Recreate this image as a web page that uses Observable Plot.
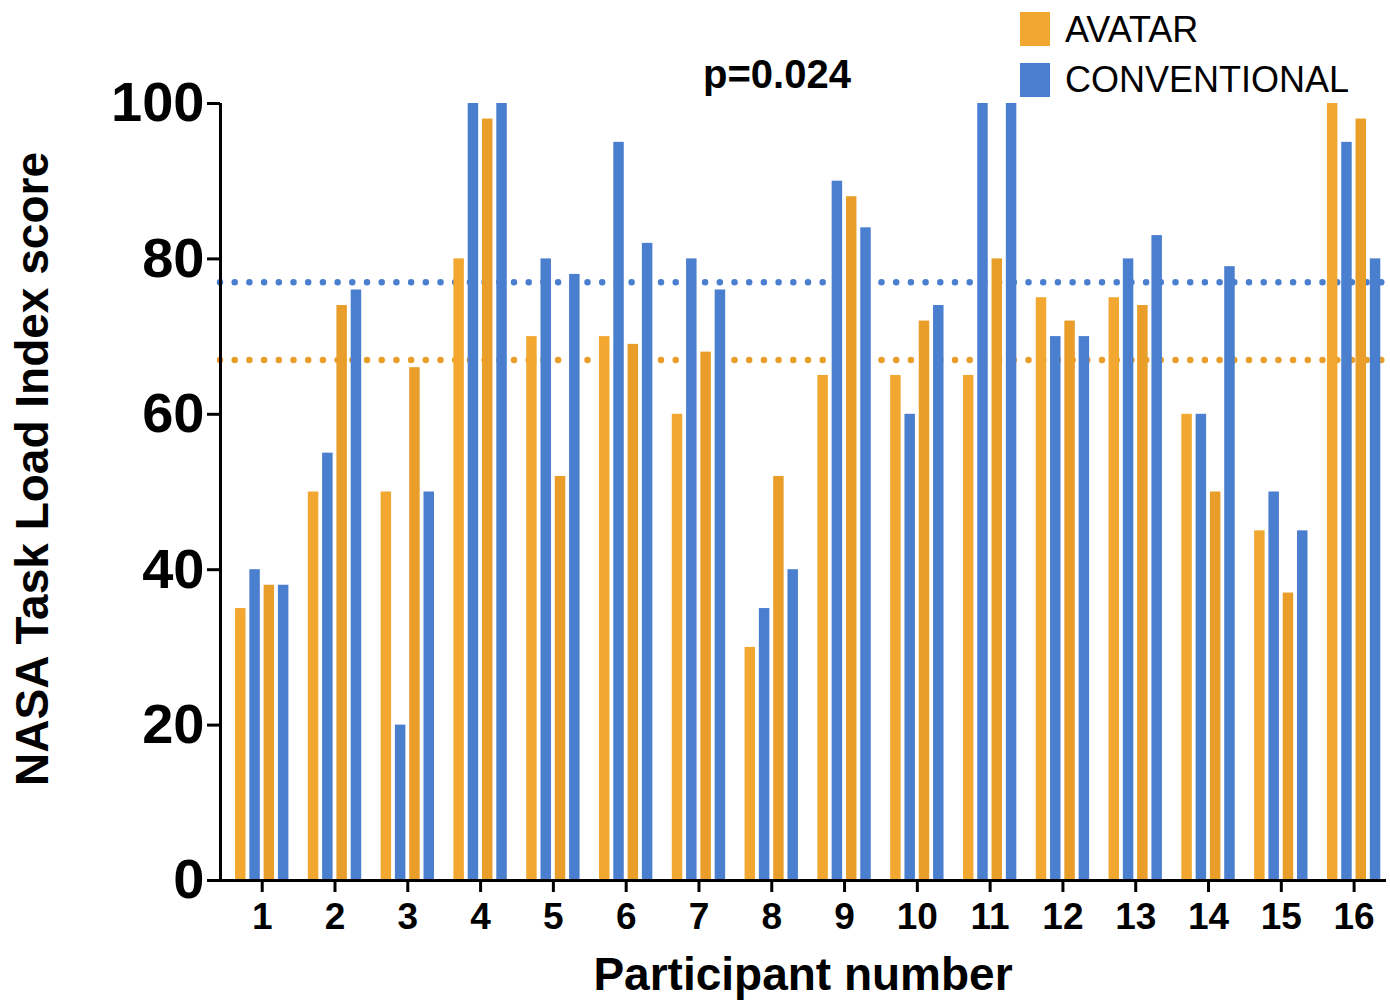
<!DOCTYPE html>
<html>
<head>
<meta charset="utf-8">
<script src="https://cdn.jsdelivr.net/npm/d3@7"></script>
<script src="https://cdn.jsdelivr.net/npm/@observablehq/plot@0.6"></script>
<style>
  html, body { margin: 0; padding: 0; background: #fff; }
  #wrap { position: relative; width: 1390px; height: 1005px; font-family: "Liberation Sans", Arial, sans-serif; color: #000; }
  #wrap svg { position: absolute; left: 0; top: 0; }
  .ov { position: absolute; line-height: 1; white-space: nowrap; }
  .sw { position: absolute; width: 30px; height: 34px; }
</style>
</head>
<body>
<div id="wrap"></div>
<script>
// ---- data ----
const participants = [1,2,3,4,5,6,7,8,9,10,11,12,13,14,15,16];
const avatarA       = [35,50,50,80,70,70,60,30,65,65,65,75,75,60,45,100];
const conventionalA = [40,55,20,100,80,95,80,35,90,60,100,70,80,60,50,95];
const avatarB       = [38,74,66,98,52,69,68,52,88,72,80,72,74,50,37,98];
const conventionalB = [38,76,50,100,78,82,76,40,84,74,100,70,83,79,45,80];
const yTicks = [0,20,40,60,80,100];
const meanAvatar = 67;
const meanConventional = 77;
const seriesNames = ["AVATAR", "CONVENTIONAL"];
const pText = "p=0.024";
const xTitle = "Participant number";
const yTitle = "NASA Task Load Index score";

// ---- styling ----
const ORANGE_A = "#F2A830";
const ORANGE_B = "#E89E29";
const BLUE = "#4A7ECF";
const slotColors = [ORANGE_A, BLUE, ORANGE_B, BLUE];
const SLOT = 0.1964;   // bar step within a participant (x units)
const BAR = 0.144;     // bar width (x units)
const X_DOMAIN = [0.427, 16.5];

const slots = [avatarA, conventionalA, avatarB, conventionalB];
const rows = [];
participants.forEach((p, i) => {
  slots.forEach((arr, j) => {
    rows.push({participant: p, slot: j, series: seriesNames[j % 2], value: arr[i]});
  });
});

const chart = Plot.plot({
  width: 1390,
  height: 1005,
  marginLeft: 220,
  marginRight: 0,
  marginTop: 103,
  marginBottom: 125,
  style: {fontFamily: "Liberation Sans, Arial, sans-serif", color: "#000", background: "transparent"},
  x: {type: "linear", domain: X_DOMAIN},
  y: {domain: [0, 100]},
  marks: [
    Plot.ruleY([meanAvatar], {stroke: ORANGE_B, strokeWidth: 6.5, strokeDasharray: "0 14.7", strokeLinecap: "round", insetLeft: 0, insetRight: 8}),
    Plot.ruleY([meanConventional], {stroke: BLUE, strokeWidth: 6.5, strokeDasharray: "0 14.7", strokeLinecap: "round", insetLeft: 0, insetRight: 8}),
    Plot.rectY(rows, {
      x1: d => d.participant + (d.slot - 1.5) * SLOT - BAR / 2,
      x2: d => d.participant + (d.slot - 1.5) * SLOT + BAR / 2,
      y: "value",
      fill: d => slotColors[d.slot]
    }),
    Plot.ruleY([0], {strokeWidth: 3, insetRight: 4}),
    Plot.ruleX([X_DOMAIN[0]], {y1: 0, y2: 100, strokeWidth: 3}),
    Plot.axisX(participants, {tickSize: 12, tickPadding: 10, fontSize: 37, fontWeight: "bold", strokeWidth: 3, tickFormat: d => String(d), label: null}),
    Plot.axisY(yTicks, {tickSize: 13, tickPadding: 3, fontSize: 56, fontWeight: "bold", strokeWidth: 3, tickFormat: d => String(d), label: null})
  ]
});

const wrap = document.getElementById("wrap");
wrap.appendChild(chart);

function addText(txt, css) {
  const d = document.createElement("div");
  d.className = "ov";
  d.textContent = txt;
  Object.assign(d.style, css);
  wrap.appendChild(d);
  return d;
}
function addSwatch(color, css) {
  const d = document.createElement("div");
  d.className = "sw";
  d.style.background = color;
  Object.assign(d.style, css);
  wrap.appendChild(d);
}

addText(pText, {left: "703px", top: "54px", fontSize: "40px", fontWeight: "bold"});
addSwatch(ORANGE_A, {left: "1020px", top: "12px"});
addSwatch(BLUE, {left: "1020px", top: "63px"});
addText(seriesNames[0], {left: "1065px", top: "12px", fontSize: "36px"});
addText(seriesNames[1], {left: "1065px", top: "62px", fontSize: "36px"});
addText(xTitle, {left: "803px", top: "951px", fontSize: "46px", fontWeight: "bold", transform: "translateX(-50%)"});
addText(yTitle, {left: "32px", top: "469px", fontSize: "46px", fontWeight: "bold", transform: "translate(-50%,-50%) rotate(-90deg)"});
</script>
</body>
</html>
